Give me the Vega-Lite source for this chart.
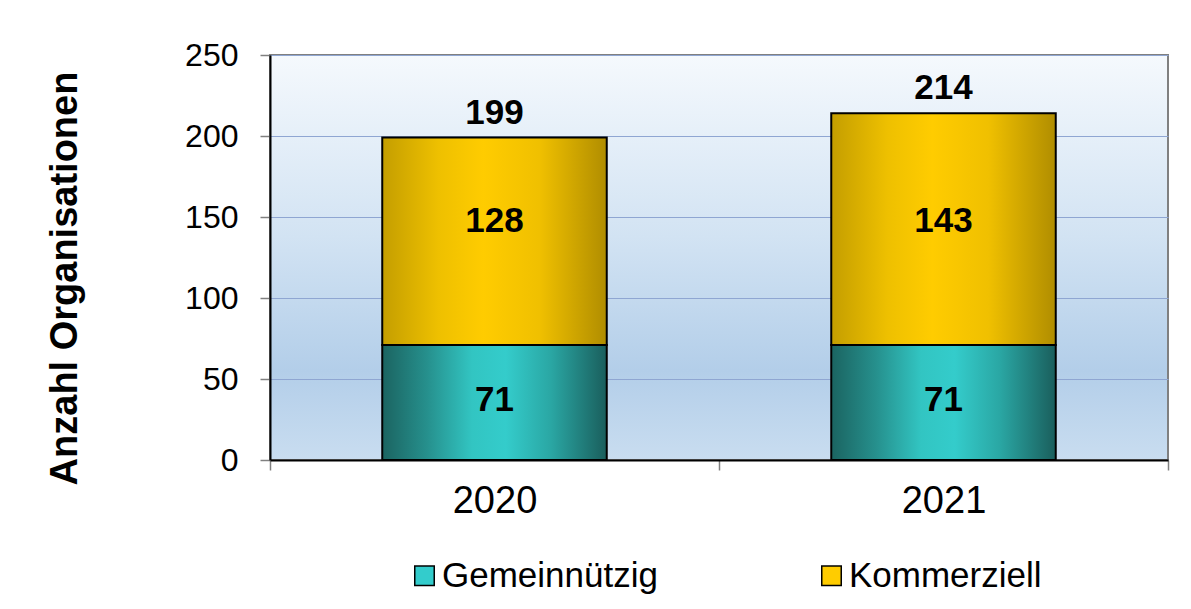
{
  "$schema": "https://vega.github.io/schema/vega-lite/v6.json",
  "autosize": "none",
  "width": 898,
  "height": 405,
  "padding": {"left": 270, "top": 55, "right": 23, "bottom": 149},
  "background": "white",
  "config": {
    "font": "Liberation Sans",
    "view": {
      "fill": {"gradient": "linear", "x1": 0, "y1": 0, "x2": 0, "y2": 1, "stops": [
        {"offset": 0, "color": "#f5f9fd"},
        {"offset": 0.45, "color": "#d2e3f3"},
        {"offset": 0.78, "color": "#b3cee9"},
        {"offset": 1, "color": "#c9ddf0"}
      ]},
      "stroke": "#808080",
      "strokeWidth": 2
    }
  },
  "data": {"values": [
    {"Jahr": "2020", "Typ": "Gemeinnützig", "Anzahl": 71},
    {"Jahr": "2020", "Typ": "Kommerziell", "Anzahl": 128},
    {"Jahr": "2021", "Typ": "Gemeinnützig", "Anzahl": 71},
    {"Jahr": "2021", "Typ": "Kommerziell", "Anzahl": 143}
  ]},
  "encoding": {
    "x": {
      "field": "Jahr", "type": "nominal",
      "scale": {"paddingInner": 0, "paddingOuter": 0},
      "axis": {
        "title": null, "labelAngle": 0, "labelFontSize": 38, "labelColor": "black",
        "labelPadding": 12, "domainColor": "black", "domainWidth": 2,
        "tickColor": "#808080", "tickSize": 10, "tickWidth": 1.5, "tickBand": "extent", "grid": false
      }
    }
  },
  "layer": [
    {
      "mark": {"type": "bar", "width": {"band": 0.5}, "stroke": "black", "strokeWidth": 2},
      "encoding": {
        "y": {
          "field": "Anzahl", "type": "quantitative", "aggregate": "sum", "stack": "zero",
          "scale": {"domain": [0, 250], "nice": false},
          "axis": {
            "title": "Anzahl Organisationen", "titleFontSize": 38, "titleFontWeight": "bold",
            "titleColor": "black", "titlePadding": 100, "titleY": 223,
            "values": [0, 50, 100, 150, 200, 250], "labelFontSize": 32, "labelColor": "black",
            "labelPadding": 22, "domainColor": "black", "domainWidth": 2,
            "tickColor": "#808080", "tickSize": 10, "tickWidth": 1.5,
            "grid": true, "gridColor": "#8fa6d2", "gridWidth": 1
          }
        },
        "order": {"field": "Typ", "sort": "ascending"},
        "fill": {
          "field": "Typ", "type": "nominal",
          "scale": {"domain": ["Gemeinnützig", "Kommerziell"], "range": ["#33cccc", "#ffcc00"]},
          "condition": [
            {"test": "datum.Typ === 'Gemeinnützig'", "value": {"gradient": "linear", "x1": 0, "y1": 0, "x2": 1, "y2": 0, "stops": [
              {"offset": 0, "color": "#1b6461"},
              {"offset": 0.2, "color": "#26908d"},
              {"offset": 0.4, "color": "#32c5c2"},
              {"offset": 0.55, "color": "#34cccb"},
              {"offset": 0.75, "color": "#2aa7a4"},
              {"offset": 1, "color": "#1a5e5c"}
            ]}},
            {"test": "datum.Typ === 'Kommerziell'", "value": {"gradient": "linear", "x1": 0, "y1": 0, "x2": 1, "y2": 0, "stops": [
              {"offset": 0, "color": "#c49e00"},
              {"offset": 0.25, "color": "#eec000"},
              {"offset": 0.45, "color": "#ffcc00"},
              {"offset": 0.7, "color": "#f0c000"},
              {"offset": 1, "color": "#b08d00"}
            ]}}
          ],
          "legend": {
            "title": null, "orient": "none", "legendX": 137, "legendY": 503, "direction": "horizontal",
            "symbolType": "square", "symbolSize": 380, "symbolStrokeColor": "black",
            "symbolStrokeWidth": 1.5, "labelFontSize": 35, "labelColor": "black", "labelLimit": 400,
            "labelOffset": 0, "columnPadding": 156,
            "encode": {"symbols": {"update": {
              "fill": {
                "condition": {"test": "datum.value === 'Gemeinnützig'", "value": {"gradient": "linear", "x1": 0, "y1": 0, "x2": 1, "y2": 0, "stops": [
                  {"offset": 0, "color": "#1b6461"},
                  {"offset": 0.45, "color": "#34cccb"},
                  {"offset": 1, "color": "#1a5e5c"}
                ]}},
                "value": {"gradient": "linear", "x1": 0, "y1": 0, "x2": 1, "y2": 0, "stops": [
                  {"offset": 0, "color": "#c49e00"},
                  {"offset": 0.45, "color": "#ffcc00"},
                  {"offset": 1, "color": "#b08d00"}
                ]}
              },
              "stroke": {"value": "black"},
              "strokeWidth": {"value": 1.5},
              "opacity": {"value": 1}
            }}}
          }
        }
      }
    },
    {
      "transform": [
        {"stack": "Anzahl", "groupby": ["Jahr"], "sort": [{"field": "Typ"}], "as": ["y0", "y1"]},
        {"filter": "datum.Typ === 'Gemeinnützig'"}
      ],
      "mark": {"type": "text", "fontSize": 35, "fontWeight": "bold", "color": "black", "baseline": "middle", "dy": -60},
      "encoding": {
        "y": {"field": "y0", "type": "quantitative"},
        "text": {"field": "Anzahl", "type": "quantitative"}
      }
    },
    {
      "transform": [
        {"stack": "Anzahl", "groupby": ["Jahr"], "sort": [{"field": "Typ"}], "as": ["y0", "y1"]},
        {"filter": "datum.Typ === 'Kommerziell'"}
      ],
      "mark": {"type": "text", "fontSize": 35, "fontWeight": "bold", "color": "black", "baseline": "middle", "dy": -124},
      "encoding": {
        "y": {"field": "y0", "type": "quantitative"},
        "text": {"field": "Anzahl", "type": "quantitative"}
      }
    },
    {
      "transform": [
        {"aggregate": [{"op": "sum", "field": "Anzahl", "as": "Gesamt"}], "groupby": ["Jahr"]}
      ],
      "mark": {"type": "text", "fontSize": 35, "fontWeight": "bold", "color": "black", "baseline": "middle", "dy": -25},
      "encoding": {
        "y": {"field": "Gesamt", "type": "quantitative"},
        "text": {"field": "Gesamt", "type": "quantitative"}
      }
    }
  ]
}
